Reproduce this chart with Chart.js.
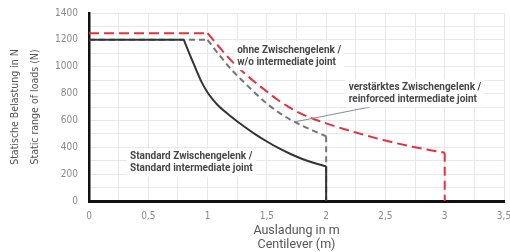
<!DOCTYPE html>
<html>
<head>
<meta charset="utf-8">
<script src="https://cdn.jsdelivr.net/npm/chart.js@4/dist/chart.umd.min.js"></script>
<style>
  html, body { margin: 0; padding: 0; background: #fff; }
  #wrap { width: 510px; height: 252px; }
</style>
</head>
<body>
<div id="wrap"><canvas id="chart-loads" width="510" height="252"></canvas></div>
<script>
// Achsen
const xTicks = [0, 0.5, 1, 1.5, 2, 2.5, 3, 3.5];
const xTickLabels = ['0', '0,5', '1', '1,5', '2', '2,5', '3', '3,5'];
const yTicks = [0, 200, 400, 600, 800, 1000, 1200, 1400];
const yTickLabels = ['0', '200', '400', '600', '800', '1000', '1200', '1400'];

// Standard Zwischengelenk (durchgezogen)
const stdFlatX = [0, 0.8];
const stdFlatY = [1200, 1200];
const stdCurveX = [0.8, 0.85, 0.9, 0.95, 1.0, 1.05, 1.1, 1.2, 1.3, 1.4, 1.5, 1.6, 1.7, 1.8, 1.9, 2.0];
const stdCurveY = [1200, 1090, 985, 885, 808, 750, 702, 628, 560, 498, 443, 393, 350, 313, 283, 258];
const stdDropX = [2.0, 2.0];
const stdDropY = [258, 0];

// ohne Zwischengelenk (rot gestrichelt)
const redFlatX = [0, 1.0];
const redFlatY = [1250, 1250];
const redCurveX = [1.0, 1.1, 1.2, 1.3, 1.4, 1.5, 1.6, 1.7, 1.8, 1.9, 2.0, 2.25, 2.5, 2.75, 3.0];
const redCurveY = [1250, 1145, 1045, 960, 885, 815, 748, 692, 645, 609, 578, 510, 450, 400, 360];
const redDropX = [3.0, 3.0];
const redDropY = [360, 0];

// verstärktes Zwischengelenk (grau gestrichelt)
const grayFlatX = [0, 1.0];
const grayFlatY = [1200, 1200];
const grayCurveX = [1.0, 1.1, 1.2, 1.3, 1.4, 1.5, 1.6, 1.7, 1.8, 1.9, 2.0];
const grayCurveY = [1200, 1085, 980, 890, 805, 725, 660, 605, 560, 520, 482];
const grayDropX = [2.0, 2.0];
const grayDropY = [482, 0];

const pts = (xs, ys) => xs.map((x, i) => ({ x: x, y: ys[i] }));

const STD = '#333333';
const RED = '#e8303c';
const GRAY = '#74747c';
const NARROW = '"Liberation Sans Narrow", "DejaVu Sans Condensed", sans-serif';

function line(xs, ys, color, dash, curved, order) {
    return {
        data: pts(xs, ys),
        borderColor: color,
        borderWidth: 2,
        borderDash: dash,
        pointRadius: 0,
        showLine: true,
        fill: false,
        cubicInterpolationMode: curved ? 'monotone' : 'default',
        tension: 0,
        order: order
    };
}

const annotations = {
    id: 'annotations',
    afterDatasetsDraw(chart) {
        const { ctx, scales: { x, y } } = chart;
        ctx.save();

        // Hinweislinie
        ctx.strokeStyle = '#8a8a90';
        ctx.lineWidth = 1;
        ctx.beginPath();
        ctx.moveTo(x.getPixelForValue(1.74), y.getPixelForValue(590));
        ctx.lineTo(x.getPixelForValue(2.37), y.getPixelForValue(700));
        ctx.stroke();

        ctx.font = 'bold 10px Roboto, "DejaVu Sans", sans-serif';
        ctx.textBaseline = 'middle';
        ctx.textAlign = 'left';

        const labels = [
            { x: 1.25, y: 1124, lines: ['ohne Zwischengelenk /', 'w/o intermediate joint'] },
            { x: 2.19, y: 847, lines: ['verstärktes Zwischengelenk /', 'reinforced intermediate joint'] },
            { x: 0.346, y: 330, lines: ['Standard Zwischengelenk /', 'Standard intermediate joint'] }
        ];
        labels.forEach(l => {
            const px = x.getPixelForValue(l.x);
            const py = y.getPixelForValue(l.y);
            const w = Math.max(...l.lines.map(t => ctx.measureText(t).width));
            ctx.fillStyle = '#ffffff';
            ctx.fillRect(px - 3, py - 8, w + 6, 12 * l.lines.length + 4);
            ctx.fillStyle = '#474747';
            l.lines.forEach((t, i) => ctx.fillText(t, px, py + i * 12));
        });
        ctx.restore();
    }
};

new Chart(document.getElementById('chart-loads'), {
    type: 'scatter',
    data: {
        datasets: [
            line(stdFlatX, stdFlatY, STD, [], false, 1),
            line(stdCurveX, stdCurveY, STD, [], true, 1),
            line(stdDropX, stdDropY, STD, [], false, 1),
            line(redFlatX, redFlatY, RED, [10, 5], false, 2),
            line(redCurveX, redCurveY, RED, [10, 5], true, 2),
            line(redDropX, redDropY, RED, [9, 5], false, 2),
            line(grayFlatX, grayFlatY, GRAY, [6, 4], false, 3),
            line(grayCurveX, grayCurveY, GRAY, [6, 4], true, 3),
            line(grayDropX, grayDropY, GRAY, [6, 4], false, 3)
        ]
    },
    options: {
        responsive: false,
        animation: false,
        layout: { padding: { top: 13, right: 6, left: 0, bottom: 0 } },
        plugins: { legend: { display: false }, tooltip: { enabled: false } },
        scales: {
            x: {
                type: 'linear',
                min: 0,
                max: 3.5,
                afterFit: s => { s.height = 51; s.paddingRight = 0; s.paddingLeft = 0; },
                border: { display: true, color: '#111', width: 3 },
                grid: { color: '#e7e7ef', lineWidth: 1, drawTicks: false },
                ticks: {
                    stepSize: 0.25,
                    autoSkip: false,
                    maxRotation: 0,
                    padding: 9,
                    color: '#8a8a8a',
                    font: { family: NARROW, size: 10 },
                    callback: v => {
                        const i = xTicks.indexOf(v);
                        return i >= 0 ? xTickLabels[i] : '';
                    }
                },
                title: {
                    display: true,
                    text: ['Ausladung in m', 'Centilever (m)'],
                    color: '#555',
                    padding: { top: 2, bottom: 0 },
                    font: { family: 'Roboto, sans-serif', size: 12.5, lineHeight: 1.15 }
                }
            },
            y: {
                min: 0,
                max: 1400,
                afterFit: s => { s.width = 89; s.paddingTop = 0; s.paddingBottom = 0; },
                border: { display: true, color: '#111', width: 2.5 },
                grid: { color: '#e7e7ef', lineWidth: 1, drawTicks: false },
                ticks: {
                    stepSize: 100,
                    autoSkip: false,
                    padding: 11,
                    color: '#8a8a8a',
                    font: { family: NARROW, size: 10 },
                    callback: v => {
                        const i = yTicks.indexOf(v);
                        return i >= 0 ? yTickLabels[i] : '';
                    }
                },
                title: {
                    display: true,
                    text: ['Statische Belastung in N', 'Static range of loads (N)'],
                    color: '#555',
                    padding: { top: 6, bottom: 4 },
                    font: { family: NARROW, size: 10.5, lineHeight: 1.85 }
                }
            }
        }
    },
    plugins: [annotations]
});
</script>
</body>
</html>
